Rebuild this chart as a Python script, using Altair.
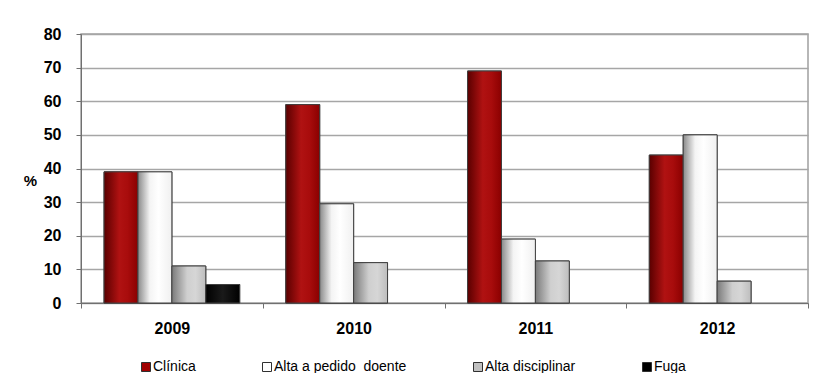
import altair as alt
import pandas as pd

years = ["2009", "2010", "2011", "2012"]
series = ["Clínica", "Alta a pedido\u00a0 doente", "Alta disciplinar", "Fuga"]
clinica = [39, 59, 69, 44]
alta_pedido = [39, 29.5, 19, 50]
alta_disc = [11, 12, 12.5, 6.5]
fuga = [5.5, None, None, None]

flat_colors = ["#a00000", "#ffffff", "#c0c0c0", "#000000"]

rows = []
for vals, s in zip([clinica, alta_pedido, alta_disc, fuga], series):
    for y, v in zip(years, vals):
        if v is not None:
            rows.append({"ano": y, "serie": s, "valor": v})
df = pd.DataFrame(rows)

def grad(stops):
    return alt.LinearGradient(
        gradient="linear", x1=0, x2=1, y1=0, y2=0,
        stops=[alt.GradientStop(offset=o, color=c) for o, c in stops],
    )

gradients = [
    grad([(0, "#5a0000"), (0.45, "#b01212"), (0.7, "#a80c0c"), (1, "#8a0000")]),
    grad([(0, "#8a8a8a"), (0.35, "#f4f4f4"), (0.6, "#ffffff"), (1, "#f0f0f0")]),
    grad([(0, "#7a7a7a"), (0.45, "#cfcfcf"), (0.7, "#d6d6d6"), (1, "#bdbdbd")]),
    grad([(0, "#000000"), (0.5, "#1a1a1a"), (1, "#000000")]),
]

FONT = "Liberation Sans"

x_enc = alt.X(
    "ano:N",
    sort=years,
    scale=alt.Scale(domain=years, paddingInner=0, paddingOuter=0),
    axis=alt.Axis(
        title=None, labelAngle=0, tickBand="extent", tickSize=5,
        labelPadding=12, labelFont=FONT, labelFontSize=16,
        labelFontWeight="bold", labelColor="#000", domainColor="#707070",
        tickColor="#707070", grid=False,
    ),
)
xoff_enc = alt.XOffset(
    "serie:N",
    sort=series,
    scale=alt.Scale(domain=series, paddingInner=0, paddingOuter=0.68),
)
y_enc = alt.Y(
    "valor:Q",
    scale=alt.Scale(domain=[0, 80], nice=False),
    axis=alt.Axis(
        title="%", titleAngle=0, titleX=-51, titleY=146, titleFont=FONT,
        titleFontSize=15, titleFontWeight="bold", titleColor="#000",
        titleBaseline="middle", titleAlign="center",
        values=list(range(0, 81, 10)), tickSize=5, labelPadding=15,
        labelFont=FONT, labelFontSize=16, labelFontWeight="bold",
        labelColor="#000", domainColor="#707070", tickColor="#707070",
        gridColor="#a6a6a6", gridWidth=1.5,
    ),
)

base = alt.Chart(df).mark_bar(stroke="#404040", strokeWidth=1).encode(
    x=x_enc,
    xOffset=xoff_enc,
    y=y_enc,
    color=alt.Color(
        "serie:N",
        sort=series,
        scale=alt.Scale(domain=series, range=flat_colors),
        legend=alt.Legend(
            title=None, orient="none", direction="horizontal", columns=4,
            legendX=58, legendY=326, symbolType="square", symbolSize=81,
            symbolStrokeColor="#303030", symbolStrokeWidth=1,
            labelFont=FONT, labelFontSize=14, labelColor="#000",
            columnPadding=64, labelOffset=0, symbolOffset=0, padding=0,
            labelLimit=300,
        ),
    ),
)

layers = [base]
for s, g in zip(series, gradients):
    layers.append(
        alt.Chart(df).transform_filter(alt.datum.serie == s)
        .mark_bar(fill=g, stroke="#404040", strokeWidth=1)
        .encode(x=x_enc, xOffset=xoff_enc, y=y_enc)
    )

chart = alt.layer(*layers).properties(
    width=727, height=269,
    autosize=alt.AutoSizeParams(type="none"),
    padding={"left": 73, "top": 26, "right": 6, "bottom": 70},
    background="white",
).configure_view(stroke="#a0a0a0", strokeWidth=1.5)

chart.save("out.html", embed_options={"renderer": "svg", "actions": False})
